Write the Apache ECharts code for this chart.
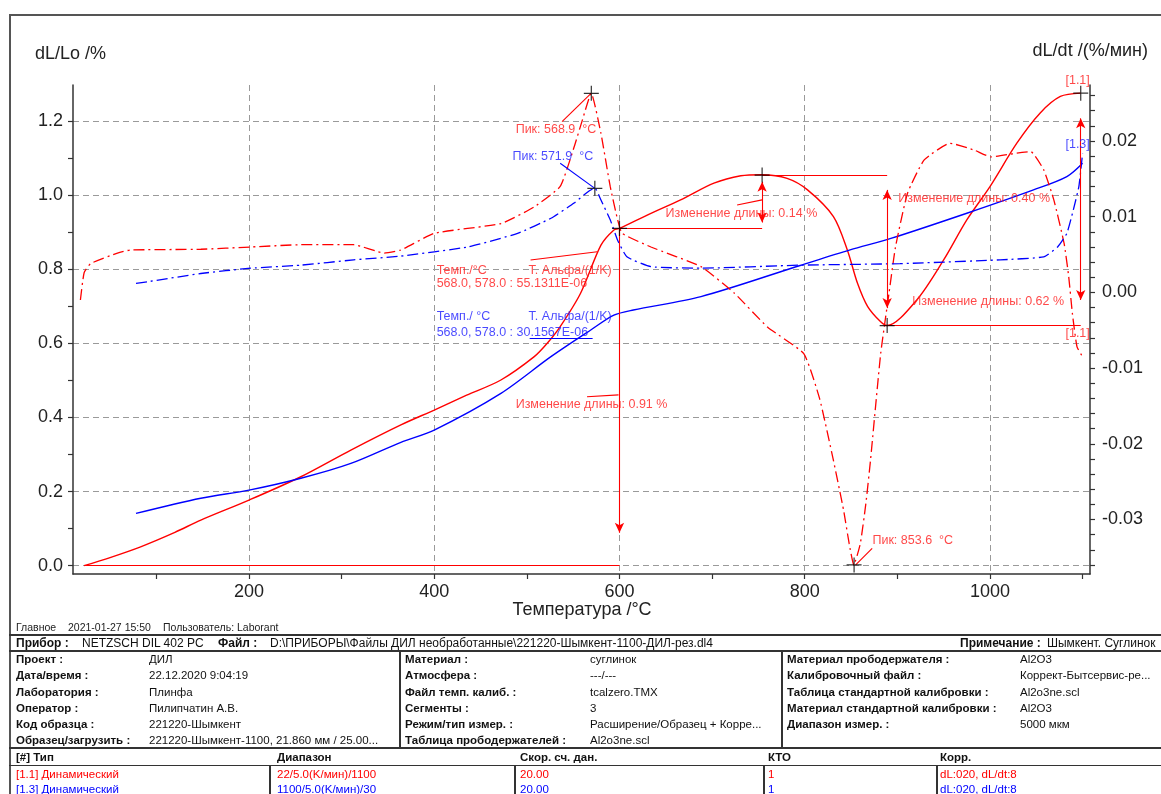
<!DOCTYPE html>
<html>
<head>
<meta charset="utf-8">
<script src="https://cdn.jsdelivr.net/npm/echarts@6/dist/echarts.min.js"></script>
<style>
  html, body { margin: 0; padding: 0; background: #fff; width: 1161px; height: 794px; overflow: hidden; }
  #frame { position: absolute; left: 9px; top: 14px; width: 1200px; height: 800px; border-left: 2px solid #555; border-top: 2px solid #555; }
  #chart { position: absolute; left: 0; top: 0; width: 1161px; height: 620px; }
  #info { position: absolute; left: 0; top: 0; width: 1161px; height: 794px; font-family: "Liberation Sans", Arial, sans-serif; color: #111; }
  #info div { position: absolute; white-space: nowrap; }
</style>
</head>
<body>
<div id="frame"></div>
<div id="chart"></div>
<div id="info"></div>
<script>
// heating run [1.1], dL/Lo in %
const heatTemp = [22, 50, 83, 120, 148, 200, 256, 310, 364, 400, 435, 472, 508, 522, 536, 558, 580, 594, 600, 630, 666, 702, 731, 754, 781, 803, 831, 846, 857, 868, 882, 889, 921, 950, 975, 1000, 1029, 1054, 1076, 1098];
const heatDL = [0, 0.022, 0.051, 0.090, 0.123, 0.177, 0.240, 0.312, 0.380, 0.420, 0.460, 0.501, 0.564, 0.600, 0.645, 0.735, 0.865, 0.906, 0.910, 0.946, 0.987, 1.032, 1.052, 1.055, 1.045, 1.014, 0.942, 0.852, 0.762, 0.699, 0.658, 0.648, 0.717, 0.825, 0.933, 1.023, 1.140, 1.221, 1.266, 1.275];

// cooling run [1.3], dL/Lo in %
const coolTemp = [78, 148, 200, 256, 310, 364, 400, 472, 526, 569, 594, 615, 688, 795, 849, 893, 975, 1047, 1083, 1100];
const coolDL = [0.141, 0.182, 0.204, 0.236, 0.276, 0.333, 0.366, 0.465, 0.564, 0.636, 0.676, 0.690, 0.726, 0.810, 0.852, 0.883, 0.951, 1.014, 1.050, 1.086];

// heating run dL/dt in %/min
const heatRateTemp = [18, 22, 29, 58, 72, 148, 202, 256, 313, 346, 364, 400, 472, 508, 536, 551, 560, 569.5, 580, 590, 598, 603, 634, 688, 724, 760, 799, 816, 831, 842, 848, 853, 860, 866, 871, 882, 891, 898, 911, 929, 957, 983, 1001, 1029, 1044, 1058, 1069, 1080, 1085, 1089, 1094, 1100];
const heatRate = [-0.0010, 0.0026, 0.0038, 0.0052, 0.0056, 0.0057, 0.0060, 0.0063, 0.0063, 0.0052, 0.0056, 0.0078, 0.0091, 0.0113, 0.0140, 0.0192, 0.0228, 0.0263, 0.0210, 0.0140, 0.0096, 0.0078, 0.0060, 0.0034, -0.0001, -0.0046, -0.0081, -0.0140, -0.0222, -0.0288, -0.0332, -0.0360, -0.0332, -0.0279, -0.0222, -0.0081, -0.0001, 0.0060, 0.0131, 0.0175, 0.0197, 0.0188, 0.0179, 0.0184, 0.0186, 0.0162, 0.0122, 0.0065, 0.0021, -0.0028, -0.0072, -0.0085];

// cooling run dL/dt in %/min
const coolRateTemp = [78, 90, 148, 202, 256, 313, 364, 436, 490, 526, 551, 565, 573.4, 580, 590, 598, 608, 634, 688, 795, 903, 1011, 1058, 1073, 1083, 1090, 1096, 1100];
const coolRate = [0.0012, 0.0014, 0.0025, 0.0032, 0.0036, 0.0043, 0.0048, 0.0060, 0.0078, 0.0098, 0.0118, 0.0132, 0.0138, 0.0122, 0.0096, 0.0069, 0.0047, 0.0034, 0.0032, 0.0036, 0.0038, 0.0043, 0.0047, 0.0060, 0.0078, 0.0109, 0.0140, 0.0184];

// axis ticks and labels
const xTicks = [100, 200, 300, 400, 500, 600, 700, 800, 900, 1000, 1100];
const xLabels = [200, 400, 600, 800, 1000];
const leftTicks = [0, 0.1, 0.2, 0.3, 0.4, 0.5, 0.6, 0.7, 0.8, 0.9, 1.0, 1.1, 1.2];
const leftLabels = [0, 0.2, 0.4, 0.6, 0.8, 1.0, 1.2];
const rightTicks = [-0.036, -0.034, -0.032, -0.030, -0.028, -0.026, -0.024, -0.022, -0.020, -0.018, -0.016, -0.014, -0.012, -0.010, -0.008, -0.006, -0.004, -0.002, 0, 0.002, 0.004, 0.006, 0.008, 0.010, 0.012, 0.014, 0.016, 0.018, 0.020, 0.022, 0.024, 0.026];
const rightLabels = [-0.03, -0.02, -0.01, 0, 0.01, 0.02];

// evaluation marks
const lengthCrosses = [[600, 0.91], [754, 1.054], [889, 0.648], [1098, 1.275]];
const rateCrosses = [[569.6, 0.0263], [573.4, 0.01375], [853.3, -0.0360]];
const levelLines = [[[22, 0], [600, 0]], [[600, 0.91], [754, 0.91]], [[754, 1.054], [889, 1.054]], [[889, 0.648], [1098, 0.648]]];
const arrowLines = [
  { from: [600, 0.91], to: [600, 0.089], both: false },
  { from: [754, 1.036], to: [754, 0.926], both: true },
  { from: [889, 1.014], to: [889, 0.695], both: true },
  { from: [1098, 1.207], to: [1098, 0.717], both: true }
];
const leaderLines = [
  { pts: [[538, 1.198], [569.6, 1.275]], color: '#ff0000' },
  { pts: [[536, 1.086], [573.4, 1.018]], color: '#0000ff' },
  { pts: [[855, 0.002], [872.8, 0.047]], color: '#ff0000' },
  { pts: [[565, 0.456], [599, 0.461]], color: '#ff0000' },
  { pts: [[727, 0.973], [754, 0.987]], color: '#ff0000' },
  { pts: [[504, 0.825], [576, 0.847]], color: '#ff0000' },
  { pts: [[503, 0.614], [571, 0.614]], color: '#0000ff' }
];
const noteTexts = [
  { at: [487.9, 1.176], text: 'Пик: 568.9  °C', color: '#ff1a1a' },
  { at: [484.6, 1.105], text: 'Пик: 571.9  °C', color: '#1a1aff' },
  { at: [873.1, 0.067], text: 'Пик: 853.6  °C', color: '#ff1a1a' },
  { at: [487.9, 0.434], text: 'Изменение длины: 0.91 %', color: '#ff1a1a' },
  { at: [649.7, 0.951], text: 'Изменение длины: 0.14 %', color: '#ff1a1a' },
  { at: [901, 0.990], text: 'Изменение длины: 0.40 %', color: '#ff1a1a' },
  { at: [916.2, 0.714], text: 'Изменение длины: 0.62 %', color: '#ff1a1a' },
  { at: [402.6, 0.797], text: 'Темп./°C', color: '#ff1a1a' },
  { at: [501.9, 0.797], text: 'Т. Альфа/(1/K)', color: '#ff1a1a' },
  { at: [402.6, 0.760], text: '568.0, 578.0 : 55.1311E-06', color: '#ff1a1a' },
  { at: [402.6, 0.673], text: 'Темп./ °C', color: '#1a1aff' },
  { at: [501.9, 0.673], text: 'Т. Альфа/(1/K)', color: '#1a1aff' },
  { at: [402.6, 0.630], text: '568.0, 578.0 : 30.1567E-06', color: '#1a1aff' },
  { at: [1081.5, 1.308], text: '[1.1]', color: '#ff1a1a' },
  { at: [1081.5, 1.135], text: '[1.3]', color: '#1a1aff' },
  { at: [1081.5, 0.627], text: '[1.1]', color: '#ff1a1a' }
];

const FONT = '"Liberation Sans", Arial, sans-serif';
const pairs = (xs, ys) => xs.map((x, i) => [x, ys[i]]);
const dashDot = [11, 4, 2, 4];
const plus = 'path://M4.6,0H5.4V4.6H10V5.4H5.4V10H4.6V5.4H0V4.6H4.6Z';
const X_MIN = 10, X_MAX = 1108, L_MIN = -0.0224, L_MAX = 1.297, R_MIN = -0.0372, R_MAX = 0.0274;

const axisLine = { show: true, onZero: false, lineStyle: { color: '#333', width: 1.5 } };
const tick = vals => ({ show: true, length: 5, customValues: vals, lineStyle: { color: '#333', width: 1.2 } });
const label = (vals, margin, fmt) => ({ customValues: vals, margin, formatter: fmt, fontSize: 18, color: '#222', fontFamily: FONT });
const gridLine = { show: true, lineStyle: { color: '#9a9a9a', type: [6, 4], width: 1 } };
// hidden helper axis that only draws the dashed grid at the labelled values
const gridAxis = (extra, vals) => Object.assign({
  type: 'value', axisLine: { show: false }, axisTick: { show: false, customValues: vals },
  axisLabel: { show: false, customValues: vals }, splitLine: gridLine
}, extra);

const markLineData = [];
levelLines.forEach(l => markLineData.push([{ coord: l[0], symbol: 'none' }, { coord: l[1], symbol: 'none' }]));
arrowLines.forEach(a => markLineData.push([{ coord: a.from, symbol: a.both ? 'arrow' : 'none' }, { coord: a.to, symbol: 'arrow' }]));
leaderLines.forEach(l => markLineData.push([
  { coord: l.pts[0], symbol: 'none', lineStyle: { color: l.color } },
  { coord: l.pts[1], symbol: 'none' }
]));

const chart = echarts.init(document.getElementById('chart'));
chart.setOption({
  animation: false,
  backgroundColor: 'transparent',
  textStyle: { fontFamily: FONT },
  grid: { left: 73, right: 71, top: 85, bottom: 46 },
  xAxis: [
    {
      type: 'value', min: X_MIN, max: X_MAX, position: 'bottom',
      axisLine, axisTick: tick(xTicks),
      axisLabel: label(xLabels, 9, v => String(v)),
      splitLine: { show: false }
    },
    gridAxis({ min: X_MIN, max: X_MAX, position: 'bottom' }, xLabels)
  ],
  yAxis: [
    {
      type: 'value', position: 'left', min: L_MIN, max: L_MAX,
      axisLine, axisTick: tick(leftTicks),
      axisLabel: label(leftLabels, 10, v => v.toFixed(1)),
      splitLine: { show: false }
    },
    {
      type: 'value', position: 'right', min: R_MIN, max: R_MAX,
      axisLine, axisTick: tick(rightTicks),
      axisLabel: label(rightLabels, 12, v => (Math.abs(v) < 1e-9 ? 0 : v).toFixed(2)),
      splitLine: { show: false }
    },
    gridAxis({ min: L_MIN, max: L_MAX, position: 'left' }, leftLabels)
  ],
  graphic: [
    { type: 'text', left: 35, top: 45, style: { text: 'dL/Lo /%', font: '18px ' + FONT, fill: '#222' } },
    { type: 'text', right: 13, top: 42, style: { text: 'dL/dt /(%/мин)', font: '18px ' + FONT, fill: '#222' } },
    { type: 'text', x: 582, y: 610, style: { text: 'Температура /°C', font: '18px ' + FONT, fill: '#222', align: 'center', verticalAlign: 'middle' } }
  ],
  series: [
    {
      type: 'line', data: pairs(heatTemp, heatDL), yAxisIndex: 0, symbol: 'none', smooth: 0.3,
      lineStyle: { color: '#ff0000', width: 1.4 }, z: 3
    },
    {
      type: 'line', data: pairs(coolTemp, coolDL), yAxisIndex: 0, symbol: 'none', smooth: 0.3,
      lineStyle: { color: '#0000ff', width: 1.4 }, z: 3
    },
    {
      type: 'line', data: pairs(heatRateTemp, heatRate), yAxisIndex: 1, symbol: 'none', smooth: 0.15,
      lineStyle: { color: '#ff0000', width: 1.3, type: dashDot }, z: 3
    },
    {
      type: 'line', data: pairs(coolRateTemp, coolRate), yAxisIndex: 1, symbol: 'none', smooth: 0.15,
      lineStyle: { color: '#0000ff', width: 1.3, type: dashDot }, z: 3
    },
    {
      type: 'line', data: [], yAxisIndex: 0, silent: true,
      markLine: {
        silent: true, symbolSize: [7, 10], label: { show: false },
        lineStyle: { color: '#ff0000', width: 1.1, type: 'solid' },
        emphasis: { disabled: true },
        data: markLineData
      }
    },
    {
      type: 'scatter', data: lengthCrosses, yAxisIndex: 0, symbol: plus, symbolSize: 15,
      itemStyle: { color: '#000' }, silent: true, z: 5
    },
    {
      type: 'scatter', data: rateCrosses, yAxisIndex: 1, symbol: plus, symbolSize: 15,
      itemStyle: { color: '#000' }, silent: true, z: 5
    },
    {
      type: 'scatter', yAxisIndex: 0, symbolSize: 0, clip: false, silent: true, z: 6,
      data: noteTexts.map(n => ({
        value: n.at, name: n.text,
        label: { show: true, position: 'right', distance: 0, formatter: '{b}', color: n.color, fontSize: 12.5, fontFamily: FONT }
      }))
    }
  ]
});

// report block under the plot
const info = document.getElementById('info');
function txt(x, y, s, size, bold, color) {
  const d = document.createElement('div');
  d.textContent = s;
  d.style.left = x + 'px';
  d.style.top = (y - 8) + 'px';
  d.style.lineHeight = '16px';
  d.style.fontSize = size + 'px';
  d.style.fontWeight = bold ? 'bold' : 'normal';
  if (color) d.style.color = color;
  info.appendChild(d);
}
function hline(y, h) {
  const d = document.createElement('div');
  d.style.cssText = `left:9px;top:${y}px;width:1160px;height:${h}px;background:#333;`;
  info.appendChild(d);
}
function vline(x, y1, y2) {
  const d = document.createElement('div');
  d.style.cssText = `left:${x}px;top:${y1}px;width:1.5px;height:${y2 - y1}px;background:#333;`;
  info.appendChild(d);
}

txt(16, 627, 'Главное', 10.5, false, '#222');
txt(68, 627, '2021-01-27 15:50', 10.5, false, '#222');
txt(163, 627, 'Пользователь: Laborant', 10.5, false, '#222');

hline(634, 2);
txt(16, 643, 'Прибор :', 12, true);
txt(82, 643, 'NETZSCH DIL 402 PC', 12, false);
txt(218, 643, 'Файл :', 12, true);
txt(270, 643, 'D:\\ПРИБОРЫ\\Файлы ДИЛ необработанные\\221220-Шымкент-1100-ДИЛ-рез.dl4', 12, false);
txt(960, 643, 'Примечание :', 12, true);
txt(1047, 643, 'Шымкент. Суглинок', 12, false);
hline(649.5, 2);

const rowY = [659, 675.3, 691.6, 708, 724.3, 740.3];
const block1 = [['Проект :', 'ДИЛ'], ['Дата/время :', '22.12.2020 9:04:19'], ['Лаборатория :', 'Плинфа'], ['Оператор :', 'Пилипчатин А.В.'], ['Код образца :', '221220-Шымкент'], ['Образец/загрузить :', '221220-Шымкент-1100, 21.860 мм / 25.00...']];
const block2 = [['Материал :', 'суглинок'], ['Атмосфера :', '---/---'], ['Файл темп. калиб. :', 'tcalzero.TMX'], ['Сегменты :', '3'], ['Режим/тип измер. :', 'Расширение/Образец + Корре...'], ['Таблица прободержателей :', 'Al2o3ne.scl']];
const block3 = [['Материал прободержателя :', 'Al2O3'], ['Калибровочный файл :', 'Коррект-Бытсервис-ре...'], ['Таблица стандартной калибровки :', 'Al2o3ne.scl'], ['Материал стандартной калибровки :', 'Al2O3'], ['Диапазон измер. :', '5000 мкм']];
[[block1, 16, 149], [block2, 405, 590], [block3, 787, 1020]].forEach(([rows, lx, vx]) => {
  rows.forEach((r, i) => { txt(lx, rowY[i], r[0], 11.5, true); txt(vx, rowY[i], r[1], 11.5, false); });
});
vline(399, 650, 748);
vline(781, 650, 748);
hline(747, 2);

const colX = [16, 277, 520, 768, 940];
const tableHead = ['[#] Тип', 'Диапазон', 'Скор. сч. дан.', 'КТО', 'Корр.'];
const tableRows = [
  { cells: ['[1.1] Динамический', '22/5.0(K/мин)/1100', '20.00', '1', 'dL:020, dL/dt:8'], color: '#ff0000', y: 773.7 },
  { cells: ['[1.3] Динамический', '1100/5.0(K/мин)/30', '20.00', '1', 'dL:020, dL/dt:8'], color: '#0000ff', y: 789 }
];
tableHead.forEach((h, i) => txt(colX[i], 756.5, h, 11.5, true));
hline(764.5, 1.5);
tableRows.forEach(r => r.cells.forEach((c, i) => txt(colX[i], r.y, c, 11.5, false, r.color)));
[269, 514, 763, 936].forEach(x => vline(x, 766, 794));
</script>
</body>
</html>
